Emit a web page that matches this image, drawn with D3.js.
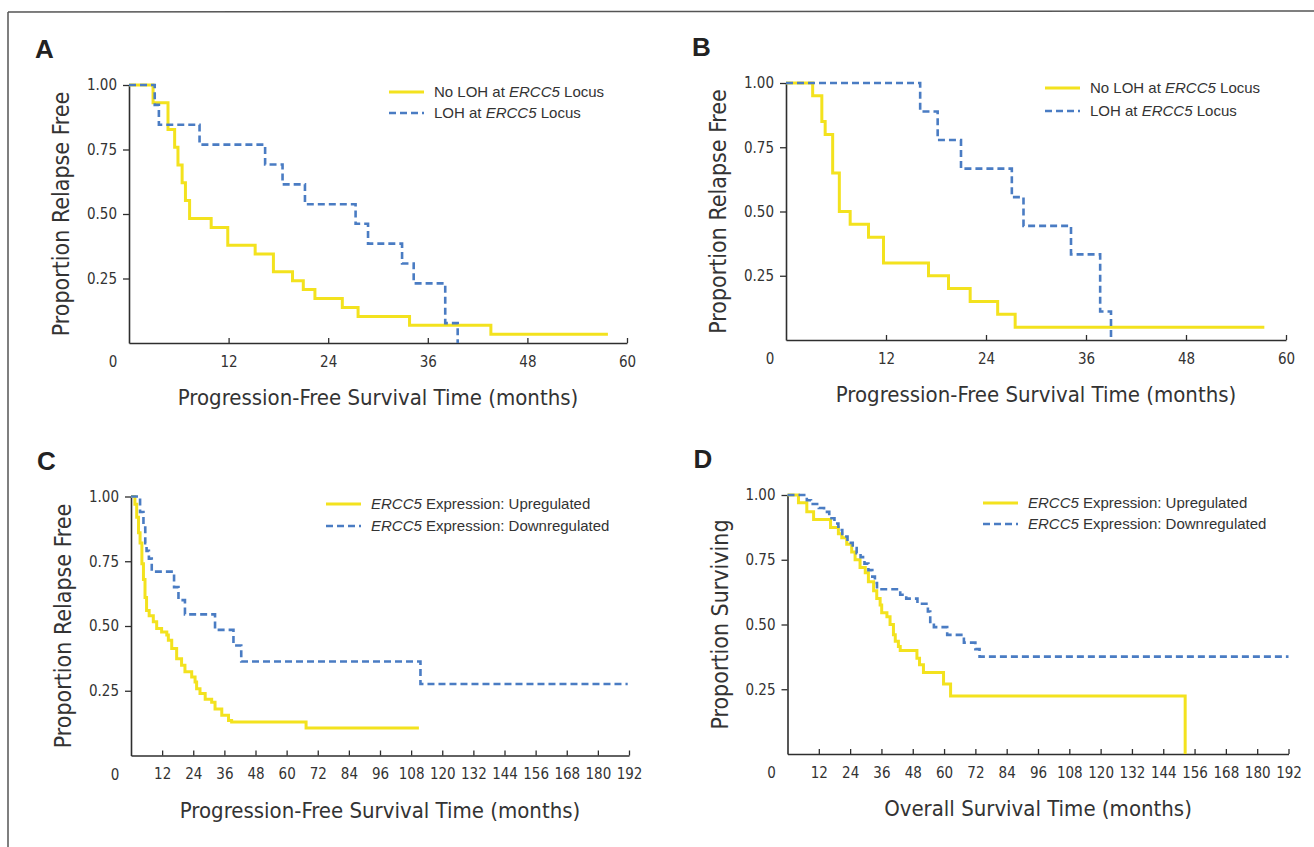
<!DOCTYPE html>
<html>
<head>
<meta charset="utf-8">
<script src="https://cdn.jsdelivr.net/npm/d3@7"></script>
<style>
  body { margin: 0; background: #fff; }
  svg { display: block; }
</style>
</head>
<body>
<div id="chart"></div>
<script>
var width = 1314;
var height = 847;
var yellow = "#f3e21e";
var blue = "#4a7cc3";
var ink = "#2e2e2e";
var narrow = "'Liberation Sans Narrow','DejaVu Sans Condensed','Liberation Sans',sans-serif";
var plain = "'Liberation Sans',Arial,sans-serif";

// ---- data ----
var panelLetters = ["A", "B", "C", "D"];
var yTicks = [0.25, 0.5, 0.75, 1];
var monthTicksShort = [12, 24, 36, 48, 60];
var monthTicksLong = [12, 24, 36, 48, 60, 72, 84, 96, 108, 120, 132, 144, 156, 168, 180, 192];
var yTitles = ["Proportion Relapse Free", "Proportion Relapse Free", "Proportion Relapse Free", "Proportion Surviving"];
var xTitles = ["Progression-Free Survival Time (months)", "Progression-Free Survival Time (months)",
               "Progression-Free Survival Time (months)", "Overall Survival Time (months)"];
var legendLoh = [["No LOH at ", "ERCC5", " Locus"], ["LOH at ", "ERCC5", " Locus"]];
var legendExpr = [["", "ERCC5", " Expression: Upregulated"], ["", "ERCC5", " Expression: Downregulated"]];

// [month, proportion] at each step
var noLohA = [[0, 1], [2.9, 0.931], [4.7, 0.828], [5.5, 0.759], [5.9, 0.69], [6.4, 0.621], [6.8, 0.552],
  [7.3, 0.483], [9.9, 0.448], [11.9, 0.379], [15.2, 0.345], [17.4, 0.276], [19.7, 0.241], [21.0, 0.207],
  [22.4, 0.172], [25.7, 0.138], [27.6, 0.103], [33.8, 0.069], [43.6, 0.034], [57.7, 0.034]];
var lohA = [[0, 1], [3.1, 0.923], [3.6, 0.846], [8.5, 0.769], [16.4, 0.692], [18.5, 0.615], [21.2, 0.538],
  [27.3, 0.462], [28.8, 0.385], [32.9, 0.308], [34.3, 0.231], [38.1, 0.077], [39.6, 0]];
var noLohB = [[0, 1], [3.2, 0.95], [4.3, 0.85], [4.7, 0.80], [5.6, 0.65], [6.4, 0.50], [7.7, 0.45],
  [9.9, 0.40], [11.7, 0.30], [17.1, 0.25], [19.5, 0.20], [22.1, 0.15], [25.4, 0.10], [27.5, 0.05], [57.4, 0.05]];
var lohB = [[0, 1], [16.1, 0.889], [18.2, 0.778], [21.0, 0.667], [27.1, 0.556], [28.5, 0.444],
  [34.2, 0.333], [37.7, 0.111], [39.0, 0]];
var upC = [[0, 1], [1.5, 0.97], [2.2, 0.92], [2.9, 0.86], [3.5, 0.82], [4.2, 0.74], [4.8, 0.68], [5.4, 0.61],
  [6.0, 0.56], [7.0, 0.54], [8.6, 0.516], [9.9, 0.49], [11.8, 0.477], [13.8, 0.465], [14.4, 0.445],
  [15.7, 0.413], [17.6, 0.374], [19.5, 0.348], [20.8, 0.323], [23.4, 0.303], [24.7, 0.284], [25.3, 0.258],
  [26.6, 0.239], [28.6, 0.217], [31.1, 0.206], [32.4, 0.18], [35.0, 0.155], [37.6, 0.135], [38.8, 0.129],
  [67.5, 0.106], [111, 0.106]];
var downC = [[0, 1], [3.5, 0.94], [4.8, 0.88], [5.5, 0.82], [6.0, 0.79], [6.9, 0.76], [8.0, 0.71],
  [16.6, 0.65], [18.3, 0.60], [20.8, 0.545], [32.4, 0.485], [39.5, 0.425], [42.5, 0.363],
  [111.6, 0.276], [191.5, 0.276]];
var upD = [[0, 1], [4.2, 0.97], [7.4, 0.935], [10.0, 0.905], [16.5, 0.875], [19.5, 0.85], [20.8, 0.835],
  [22.7, 0.81], [24.6, 0.78], [25.9, 0.75], [27.8, 0.72], [29.8, 0.70], [31.0, 0.665], [33.0, 0.63],
  [34.2, 0.60], [35.5, 0.575], [36.1, 0.545], [38.1, 0.53], [39.3, 0.50], [40.6, 0.46], [41.3, 0.435],
  [42.5, 0.415], [43.2, 0.40], [49.6, 0.37], [50.6, 0.345], [52.1, 0.315], [59.8, 0.27], [62.5, 0.224],
  [152.4, 0]];
var downD = [[0, 1], [7.4, 0.98], [9, 0.965], [12, 0.95], [14, 0.935], [16, 0.91], [18, 0.89], [19.5, 0.865],
  [21, 0.84], [23, 0.815], [25, 0.795], [26.5, 0.775], [28, 0.76], [29.5, 0.735], [31, 0.71], [32.5, 0.685],
  [33.5, 0.66], [34.3, 0.636], [43.2, 0.615], [45.5, 0.60], [49.8, 0.58], [53.8, 0.55], [54.7, 0.51],
  [56.1, 0.49], [61.2, 0.46], [67.6, 0.43], [72, 0.405], [73.6, 0.376], [192, 0.376]];

// ---- layout of the four panels ----
var panels = [
  { left: 129, right: 627, top: 85, bottom: 343, xMax: 60, ticks: monthTicksShort,
    series: [noLohA, lohA], legend: legendLoh, legX: 389, legY: 92, legGap: 21 },
  { left: 786, right: 1286, top: 83, bottom: 340, xMax: 60, ticks: monthTicksShort,
    series: [noLohB, lohB], legend: legendLoh, legX: 1045, legY: 88, legGap: 23 },
  { left: 131, right: 629, top: 496.5, bottom: 755.5, xMax: 192, ticks: monthTicksLong,
    series: [upC, downC], legend: legendExpr, legX: 326, legY: 504, legGap: 22 },
  { left: 787.5, right: 1288.5, top: 495, bottom: 754, xMax: 192, ticks: monthTicksLong,
    series: [upD, downD], legend: legendExpr, legX: 983, legY: 503, legGap: 21 }
];

var svg = d3.select("#chart").append("svg")
  .attr("width", width)
  .attr("height", height);

// scan frame (top and left rule)
svg.append("line").attr("x1", 8).attr("y1", 12).attr("x2", width).attr("y2", 11)
  .attr("stroke", "#555").attr("stroke-width", 1.5);
svg.append("line").attr("x1", 8).attr("y1", 12).attr("x2", 8).attr("y2", height)
  .attr("stroke", "#555").attr("stroke-width", 1.5);

panels.forEach(function (p, i) {
  drawPanel(p, i);
});

function drawPanel(p, i) {
  var x = d3.scaleLinear().domain([0, p.xMax]).range([p.left, p.right]);
  var y = d3.scaleLinear().domain([0, 1]).range([p.bottom, p.top]);
  var g = svg.append("g");

  // y axis
  var yAxis = g.append("g")
    .attr("transform", "translate(" + p.left + ",0)")
    .call(d3.axisLeft(y).tickValues(yTicks).tickFormat(d3.format(".2f"))
      .tickSize(6).tickSizeOuter(0).tickPadding(6));
  // x axis, ticks point inward
  var xAxis = g.append("g")
    .attr("transform", "translate(0," + p.bottom + ")")
    .call(d3.axisBottom(x).tickValues(p.ticks).tickFormat(d3.format("d"))
      .tickSize(-5).tickSizeOuter(0).tickPadding(13));

  [yAxis, xAxis].forEach(function (a) {
    a.select(".domain").attr("stroke", ink).attr("stroke-width", 1.6);
    a.selectAll(".tick line").attr("stroke", ink).attr("stroke-width", 1.3);
    a.selectAll(".tick text").attr("fill", "#333")
      .style("font-family", narrow).style("font-size", "15px");
  });

  // lone "0" at the origin
  g.append("text")
    .attr("x", p.left - 16).attr("y", p.bottom + 24)
    .attr("text-anchor", "middle")
    .style("font-family", narrow).style("font-size", "15px")
    .attr("fill", "#333")
    .text("0");

  // survival curves
  var line = d3.line()
    .x(function (d) { return x(d[0]); })
    .y(function (d) { return y(d[1]); })
    .curve(d3.curveStepAfter);

  g.append("path").datum(p.series[0])
    .attr("d", line).attr("fill", "none")
    .attr("stroke", yellow).attr("stroke-width", 3);
  g.append("path").datum(p.series[1])
    .attr("d", line).attr("fill", "none")
    .attr("stroke", blue).attr("stroke-width", 2.6)
    .attr("stroke-dasharray", "7,4");

  // legend
  p.legend.forEach(function (item, k) {
    var ly = p.legY + k * p.legGap;
    g.append("line")
      .attr("x1", p.legX).attr("x2", p.legX + 35)
      .attr("y1", ly).attr("y2", ly)
      .attr("stroke", k == 0 ? yellow : blue)
      .attr("stroke-width", k == 0 ? 3 : 2.6)
      .attr("stroke-dasharray", k == 0 ? null : "7,4");
    var t = g.append("text")
      .attr("x", p.legX + 45).attr("y", ly + 5)
      .attr("fill", "#333")
      .style("font-family", plain).style("font-size", "15px");
    t.append("tspan").text(item[0]);
    t.append("tspan").style("font-style", "italic").text(item[1]);
    t.append("tspan").text(item[2]);
  });

  // axis titles
  g.append("text")
    .attr("x", (p.left + p.right) / 2).attr("y", p.bottom + 62)
    .attr("text-anchor", "middle")
    .attr("fill", "#333")
    .style("font-family", narrow).style("font-size", "22px")
    .text(xTitles[i]);
  g.append("text")
    .attr("transform", "translate(" + (p.left - 60) + "," + ((p.top + p.bottom) / 2) + ")rotate(-90)")
    .attr("text-anchor", "middle")
    .attr("fill", "#333")
    .style("font-family", narrow).style("font-size", "23px")
    .text(yTitles[i]);

  // panel letter
  g.append("text")
    .attr("x", p.left - 94).attr("y", p.top - 27)
    .attr("fill", "#222")
    .style("font-family", plain).style("font-weight", "bold").style("font-size", "26px")
    .text(panelLetters[i]);
}
</script>
</body>
</html>
